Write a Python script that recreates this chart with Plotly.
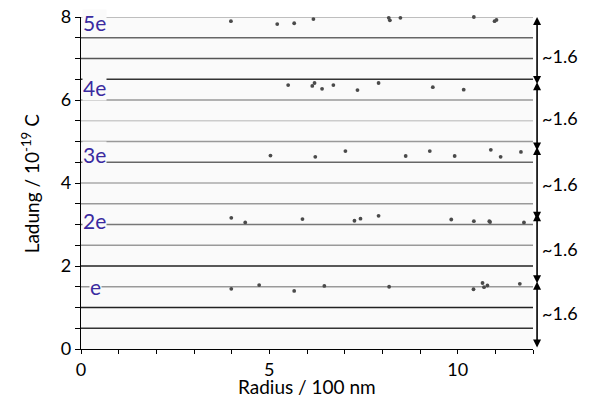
import plotly.graph_objects as go

# ---- data ----
r5 = [3.98, 5.21, 5.66, 6.17, 8.17, 8.20, 8.48, 10.43, 10.98, 11.03]
q5 = [7.90, 7.83, 7.85, 7.95, 7.98, 7.92, 7.98, 8.00, 7.90, 7.93]
r4 = [5.50, 6.14, 6.20, 6.40, 6.70, 7.34, 7.90, 9.34, 10.16]
q4 = [6.36, 6.34, 6.41, 6.27, 6.36, 6.24, 6.41, 6.31, 6.25]
r3 = [5.03, 6.22, 7.02, 8.62, 9.26, 9.92, 10.88, 11.14, 11.68]
q3 = [4.66, 4.63, 4.77, 4.65, 4.77, 4.65, 4.80, 4.63, 4.75]
r2 = [3.99, 4.36, 5.88, 7.26, 7.42, 7.90, 9.83, 10.43, 10.84, 10.86, 11.76]
q2 = [3.16, 3.05, 3.13, 3.09, 3.14, 3.21, 3.12, 3.08, 3.08, 3.06, 3.05]
r1 = [3.99, 4.73, 5.66, 6.46, 8.18, 10.42, 10.66, 10.70, 10.79, 11.65]
q1 = [1.45, 1.54, 1.40, 1.52, 1.50, 1.44, 1.59, 1.49, 1.53, 1.57]

level_labels = ["e", "2e", "3e", "4e", "5e"]
level_label_y = [1.5, 3.1, 4.68, 6.3, 7.86]
grid_y = [0.5, 1.0, 1.5, 2.0, 2.5, 3.0, 3.5, 4.0, 4.5, 5.0, 5.5, 6.0, 6.5, 7.0, 7.5, 8.0]
arrow_lo = [0.0, 1.55, 3.08, 4.75, 6.35]
arrow_hi = [1.62, 3.27, 4.87, 6.43, 8.0]
gap_label = "~1.6"
gap_label_y = [0.87, 2.42, 3.97, 5.57, 7.05]

xtick_vals = list(range(0, 13))
xtick_text = ["0", "", "", "", "", "5", "", "", "", "", "10", "", ""]
ytick_vals = [v * 0.5 for v in range(0, 17)]
ytick_text = [str(int(v)) if v % 2 == 0 else "" for v in ytick_vals]
x_title = "Radius / 100 nm"
y_title = "Ladung / 10<sup>-19</sup> C"

# ---- styles ----
grid_colors = ["#333333", "#222222", "#999999", "#222222", "#999999", "#777777",
               "#999999", "#aaaaaa", "#666666", "#999999", "#cccccc", "#999999",
               "#333333", "#555555", "#666666", "#aaaaaa"]
FONT = "Lato, 'Open Sans', sans-serif"
LABEL_COLOR = "#3a2aa0"
BG = "#fafafa"

fig = go.Figure()

shapes = []
for yv, c in zip(grid_y, grid_colors):
    shapes.append(dict(type="line", xref="x", yref="y", x0=0, x1=12, y0=yv, y1=yv,
                       line=dict(color=c, width=1.4), layer="below"))

for rr, qq in [(r1, q1), (r2, q2), (r3, q3), (r4, q4), (r5, q5)]:
    fig.add_trace(go.Scatter(x=rr, y=qq, mode="markers", cliponaxis=False,
                             marker=dict(size=3.8, color="#4a4a4a"), showlegend=False,
                             hoverinfo="skip"))

annotations = []
for lab, yv in zip(level_labels, level_label_y):
    annotations.append(dict(text=lab, x=0.03 if lab != "e" else 0.2, y=yv, xref="x", yref="y",
                            xanchor="left", yanchor="middle", showarrow=False,
                            bgcolor=BG, borderpad=0,
                            font=dict(family=FONT, size=21, color=LABEL_COLOR)))

for lo, hi in zip(arrow_lo, arrow_hi):
    annotations.append(dict(text="", x=1.009, xref="paper", y=hi, yref="y",
                            ax=0, axref="pixel", ay=lo, ayref="y",
                            showarrow=True, arrowhead=2, arrowside="end+start",
                            arrowsize=1.0, arrowwidth=1.6, arrowcolor="#000000",
                            standoff=0, startstandoff=0))

for yv in gap_label_y:
    annotations.append(dict(text=gap_label, x=1.015, xref="paper", y=yv, yref="y",
                            xanchor="left", yanchor="middle", showarrow=False,
                            font=dict(family=FONT, size=18, color="#000000")))

# axis titles as annotations (placed tightly like the reference)
annotations.append(dict(text=x_title, x=0.5, xref="paper", y=-0.112, yref="paper",
                        xanchor="center", yanchor="middle", showarrow=False,
                        font=dict(family=FONT, size=19, color="#000000")))
annotations.append(dict(text=y_title, x=-0.08, xref="paper", y=0.5, yref="paper",
                        xanchor="right", yanchor="middle", showarrow=False, textangle=-90,
                        font=dict(family=FONT, size=19, color="#000000")))

# page body has an 8px margin: shrink the figure and offset margins accordingly
fig.update_layout(
    width=584, height=396,
    margin=dict(l=73, r=59, t=9, b=55),
    paper_bgcolor="white", plot_bgcolor=BG,
    font=dict(family=FONT, size=18, color="#000000"),
    shapes=shapes, annotations=annotations,
    xaxis=dict(range=[0, 12], tickvals=xtick_vals, ticktext=xtick_text,
               ticks="outside", ticklen=4, tickwidth=1, tickcolor="#000",
               showgrid=False, zeroline=False, showline=True, linecolor="#000",
               linewidth=1.2, tickfont=dict(size=18), automargin=False,
               ticklabeloverflow="allow"),
    yaxis=dict(range=[0, 8], tickvals=ytick_vals, ticktext=ytick_text,
               ticks="outside", ticklen=5, tickwidth=1, tickcolor="#000",
               showgrid=False, zeroline=False, showline=True, linecolor="#000",
               linewidth=1.2, tickfont=dict(size=18), automargin=False,
               ticklabeloverflow="allow"),
)

fig.write_html("out.html")
